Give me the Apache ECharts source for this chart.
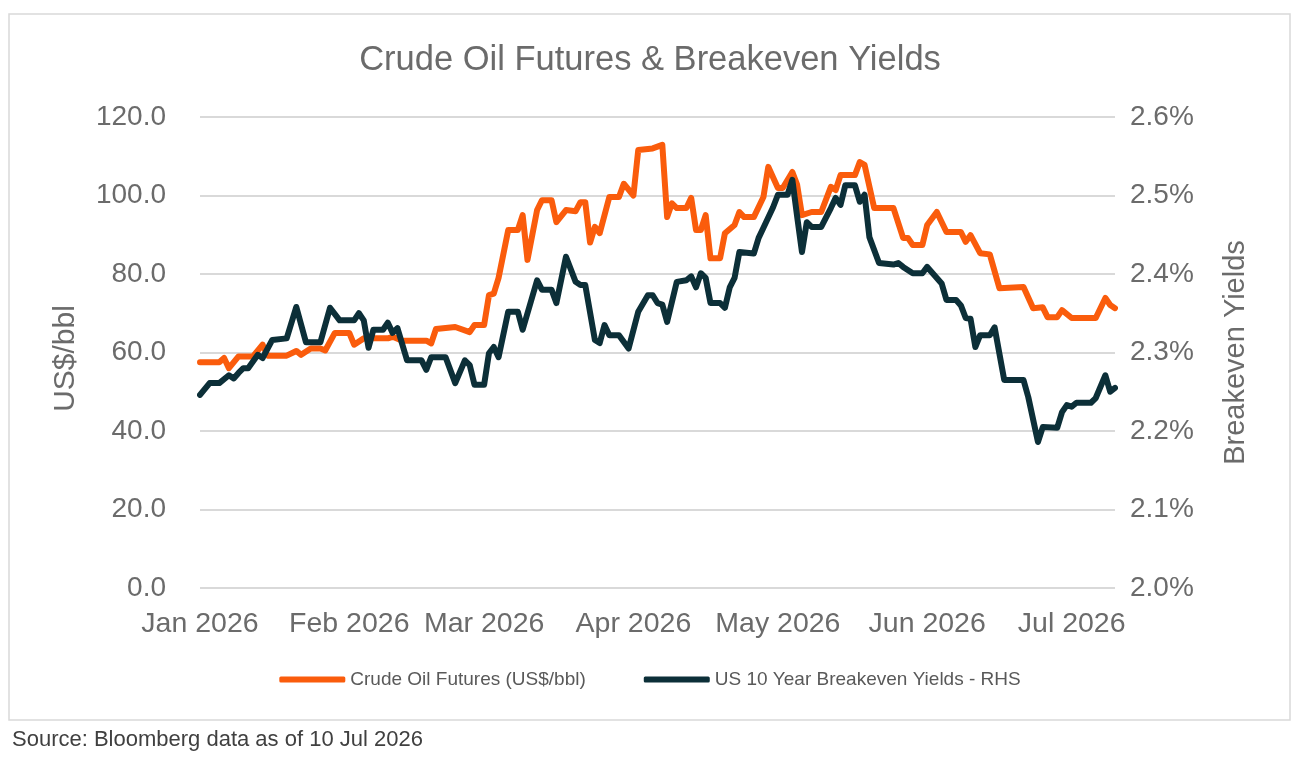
<!DOCTYPE html>
<html>
<head>
<meta charset="utf-8">
<script src="https://cdn.jsdelivr.net/npm/echarts@6/dist/echarts.min.js"></script>
<style>
  html, body { margin: 0; padding: 0; background: #fff; }
  #chart { width: 1300px; height: 760px; }
</style>
</head>
<body>
<div id="chart"></div>
<script>
// crude oil futures, US$/bbl
var oilDates = [
  '2026-01-01', '2026-01-05', '2026-01-06', '2026-01-07', '2026-01-09', '2026-01-12', '2026-01-14', '2026-01-15',
  '2026-01-19', '2026-01-21', '2026-01-22', '2026-01-24', '2026-01-26', '2026-01-27', '2026-01-29', '2026-02-01',
  '2026-02-02', '2026-02-04', '2026-02-09', '2026-02-10', '2026-02-11', '2026-02-12', '2026-02-17', '2026-02-18',
  '2026-02-19', '2026-02-23', '2026-02-26', '2026-02-27', '2026-03-01', '2026-03-02', '2026-03-03', '2026-03-04',
  '2026-03-06', '2026-03-08', '2026-03-09', '2026-03-10', '2026-03-12', '2026-03-13', '2026-03-15', '2026-03-16',
  '2026-03-18', '2026-03-20', '2026-03-21', '2026-03-22', '2026-03-23', '2026-03-24', '2026-03-25', '2026-03-27',
  '2026-03-29', '2026-03-30', '2026-04-01', '2026-04-02', '2026-04-05', '2026-04-07', '2026-04-08', '2026-04-09',
  '2026-04-10', '2026-04-12', '2026-04-13', '2026-04-14', '2026-04-15', '2026-04-16', '2026-04-17', '2026-04-19',
  '2026-04-20', '2026-04-22', '2026-04-23', '2026-04-24', '2026-04-26', '2026-04-28', '2026-04-29', '2026-05-01',
  '2026-05-02', '2026-05-04', '2026-05-05', '2026-05-06', '2026-05-08', '2026-05-10', '2026-05-12', '2026-05-13',
  '2026-05-14', '2026-05-17', '2026-05-18', '2026-05-19', '2026-05-21', '2026-05-25', '2026-05-27', '2026-05-28',
  '2026-05-29', '2026-05-31', '2026-06-01', '2026-06-03', '2026-06-05', '2026-06-08', '2026-06-09', '2026-06-10',
  '2026-06-12', '2026-06-14', '2026-06-16', '2026-06-21', '2026-06-23', '2026-06-25', '2026-06-26', '2026-06-28',
  '2026-06-29', '2026-07-01', '2026-07-06', '2026-07-08', '2026-07-09', '2026-07-10'
];
var oilValues = [
  57.5, 57.5, 58.6, 56.0, 59.0, 59.0, 62.0, 59.2,
  59.2, 60.4, 59.4, 61.0, 61.0, 60.5, 65.0, 65.0,
  62.0, 63.6, 63.6, 64.0, 63.5, 63.0, 63.0, 62.3,
  66.0, 66.5, 65.2, 67.0, 67.0, 74.6, 75.0, 79.0,
  91.2, 91.2, 95.0, 83.6, 96.3, 98.8, 98.8, 93.2,
  96.3, 96.0, 98.3, 98.3, 88.0, 92.0, 90.4, 99.6,
  99.6, 103.0, 100.0, 111.6, 112.0, 112.9, 94.5, 98.0,
  96.8, 96.8, 99.4, 91.2, 91.2, 95.0, 84.0, 84.0,
  90.4, 92.5, 95.8, 94.5, 94.5, 99.6, 107.3, 101.9,
  101.9, 106.0, 102.7, 95.0, 95.8, 95.8, 102.2, 101.4,
  105.2, 105.2, 108.5, 107.8, 96.8, 96.8, 89.2, 89.2,
  87.4, 87.4, 92.5, 95.8, 90.7, 90.7, 88.2, 89.9,
  85.3, 85.0, 76.4, 76.7, 71.3, 71.5, 69.0, 69.0,
  70.8, 68.8, 68.8, 73.9, 72.1, 71.3
];

// US 10 year breakeven yields, %
var yieldDates = [
  '2026-01-01', '2026-01-03', '2026-01-05', '2026-01-07', '2026-01-08', '2026-01-09', '2026-01-10', '2026-01-11',
  '2026-01-13', '2026-01-14', '2026-01-16', '2026-01-19', '2026-01-21', '2026-01-23', '2026-01-26', '2026-01-28',
  '2026-01-30', '2026-02-02', '2026-02-03', '2026-02-04', '2026-02-05', '2026-02-06', '2026-02-08', '2026-02-09',
  '2026-02-10', '2026-02-11', '2026-02-13', '2026-02-16', '2026-02-17', '2026-02-18', '2026-02-21', '2026-02-23',
  '2026-02-25', '2026-02-26', '2026-02-27', '2026-03-01', '2026-03-02', '2026-03-03', '2026-03-04', '2026-03-06',
  '2026-03-08', '2026-03-09', '2026-03-12', '2026-03-13', '2026-03-15', '2026-03-16', '2026-03-18', '2026-03-20',
  '2026-03-21', '2026-03-22', '2026-03-24', '2026-03-25', '2026-03-26', '2026-03-27', '2026-03-29', '2026-03-31',
  '2026-04-02', '2026-04-04', '2026-04-05', '2026-04-06', '2026-04-07', '2026-04-08', '2026-04-10', '2026-04-12',
  '2026-04-13', '2026-04-14', '2026-04-15', '2026-04-16', '2026-04-17', '2026-04-19', '2026-04-20', '2026-04-21',
  '2026-04-22', '2026-04-23', '2026-04-26', '2026-04-27', '2026-04-28', '2026-04-30', '2026-05-01', '2026-05-03',
  '2026-05-04', '2026-05-05', '2026-05-06', '2026-05-07', '2026-05-08', '2026-05-10', '2026-05-12', '2026-05-13',
  '2026-05-14', '2026-05-15', '2026-05-17', '2026-05-18', '2026-05-19', '2026-05-20', '2026-05-22', '2026-05-25',
  '2026-05-26', '2026-05-27', '2026-05-29', '2026-05-31', '2026-06-01', '2026-06-04', '2026-06-05', '2026-06-07',
  '2026-06-08', '2026-06-09', '2026-06-10', '2026-06-11', '2026-06-12', '2026-06-14', '2026-06-15', '2026-06-17',
  '2026-06-21', '2026-06-22', '2026-06-24', '2026-06-25', '2026-06-28', '2026-06-29', '2026-06-30', '2026-07-01',
  '2026-07-02', '2026-07-05', '2026-07-06', '2026-07-08', '2026-07-09', '2026-07-10'
];
var yieldValues = [
  2.246, 2.261, 2.261, 2.271, 2.267, 2.274, 2.280, 2.280,
  2.297, 2.293, 2.316, 2.318, 2.358, 2.313, 2.313, 2.357,
  2.341, 2.341, 2.350, 2.341, 2.306, 2.329, 2.329, 2.338,
  2.325, 2.331, 2.290, 2.290, 2.278, 2.294, 2.294, 2.261,
  2.290, 2.284, 2.259, 2.259, 2.299, 2.307, 2.294, 2.352,
  2.352, 2.329, 2.392, 2.380, 2.380, 2.363, 2.422, 2.390,
  2.386, 2.386, 2.316, 2.312, 2.335, 2.322, 2.322, 2.305,
  2.352, 2.373, 2.373, 2.363, 2.361, 2.339, 2.390, 2.392,
  2.397, 2.383, 2.401, 2.395, 2.363, 2.363, 2.357, 2.383,
  2.395, 2.428, 2.426, 2.446, 2.459, 2.485, 2.501, 2.501,
  2.520, 2.473, 2.428, 2.466, 2.460, 2.460, 2.484, 2.497,
  2.488, 2.513, 2.513, 2.492, 2.501, 2.447, 2.414, 2.412,
  2.414, 2.409, 2.401, 2.401, 2.409, 2.388, 2.367, 2.367,
  2.360, 2.344, 2.343, 2.307, 2.322, 2.322, 2.332, 2.265,
  2.265, 2.243, 2.186, 2.205, 2.204, 2.224, 2.233, 2.231,
  2.236, 2.236, 2.242, 2.271, 2.250, 2.255
];

var monthNames = ['Jan', 'Feb', 'Mar', 'Apr', 'May', 'Jun', 'Jul', 'Aug', 'Sep', 'Oct', 'Nov', 'Dec'];

function pairs(dates, values) {
  return dates.map(function (d, i) { return [d, values[i]]; });
}

var dom = document.getElementById('chart');
var myChart = echarts.init(dom, null, { renderer: 'canvas' });

var font = 'Liberation Sans';
var gray = '#6b6b6b';

var option = {
  animation: false,
  textStyle: { fontFamily: font },
  title: {
    text: 'Crude Oil Futures & Breakeven Yields',
    left: 'center',
    top: 38,
    textStyle: { fontFamily: font, fontSize: 34.5, fontWeight: 'normal', color: gray }
  },
  graphic: [
    {
      type: 'rect',
      shape: { x: 9, y: 14, width: 1281, height: 706 },
      style: { fill: 'none', stroke: '#d9d9d9', lineWidth: 1.5 },
      silent: true
    },
    {
      type: 'text',
      left: 12,
      top: 729,
      style: { text: 'Source: Bloomberg data as of 10 Jul 2026', fontFamily: font, fontSize: 22, fill: '#404040' }
    }
  ],
  legend: {
    bottom: 66,
    left: 'center',
    itemGap: 58,
    itemWidth: 66,
    itemHeight: 6,
    icon: 'roundRect',
    textStyle: { fontFamily: font, fontSize: 19, color: '#595959' },
    data: ['Crude Oil Futures (US$/bbl)', 'US 10 Year Breakeven Yields - RHS']
  },
  grid: { left: 200, right: 185, top: 117, bottom: 172, containLabel: false },
  xAxis: {
    type: 'time',
    min: '2026-01-01',
    max: '2026-07-10',
    axisLine: { show: false },
    axisTick: { show: false },
    splitLine: { show: false },
    axisLabel: {
      fontFamily: font,
      fontSize: 28.5,
      color: gray,
      margin: 22,
      showMinLabel: true,
      showMaxLabel: false,
      hideOverlap: false,
      formatter: function (val) {
        var d = new Date(val);
        if (d.getDate() !== 1) return '';
        return monthNames[d.getMonth()] + ' ' + d.getFullYear();
      }
    }
  },
  yAxis: [
    {
      type: 'value',
      min: 0,
      max: 120,
      interval: 20,
      name: 'US$/bbl',
      nameLocation: 'middle',
      nameGap: 119,
      nameTextStyle: { fontFamily: font, fontSize: 30, color: gray, padding: [0, 12, 0, 0] },
      axisLine: { show: false },
      axisTick: { show: false },
      splitLine: { lineStyle: { color: '#d9d9d9', width: 2 } },
      axisLabel: {
        fontFamily: font, fontSize: 28, color: gray, margin: 34,
        formatter: function (v) { return v.toFixed(1); }
      }
    },
    {
      type: 'value',
      min: 2.0,
      max: 2.6,
      interval: 0.1,
      name: 'Breakeven Yields',
      nameLocation: 'middle',
      nameGap: 106,
      nameTextStyle: { fontFamily: font, fontSize: 29, color: gray },
      axisLine: { show: false },
      axisTick: { show: false },
      splitLine: { show: false },
      axisLabel: {
        fontFamily: font, fontSize: 28, color: gray, margin: 15,
        formatter: function (v) { return v.toFixed(1) + '%'; }
      }
    }
  ],
  series: [
    {
      name: 'Crude Oil Futures (US$/bbl)',
      type: 'line',
      yAxisIndex: 0,
      showSymbol: false,
      symbol: 'none',
      color: '#fa5c0c',
      lineStyle: { width: 6, color: '#fa5c0c', join: 'round', cap: 'round' },
      data: pairs(oilDates, oilValues)
    },
    {
      name: 'US 10 Year Breakeven Yields - RHS',
      type: 'line',
      yAxisIndex: 1,
      showSymbol: false,
      symbol: 'none',
      color: '#0c2f38',
      lineStyle: { width: 6, color: '#0c2f38', join: 'round', cap: 'round' },
      data: pairs(yieldDates, yieldValues)
    }
  ]
};

myChart.setOption(option);
</script>
</body>
</html>
